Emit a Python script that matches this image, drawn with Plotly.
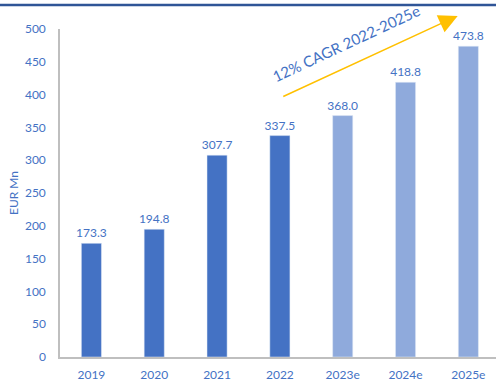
import plotly.graph_objects as go

categories = ["2019", "2020", "2021", "2022", "2023e", "2024e", "2025e"]
values = [173.3, 194.8, 307.7, 337.5, 368.0, 418.8, 473.8]
labels = ["173.3", "194.8", "307.7", "337.5", "368.0", "418.8", "473.8"]
y_ticks = [0, 50, 100, 150, 200, 250, 300, 350, 400, 450, 500]
cagr_text = "12% CAGR 2022-2025e"

dark = "#4472C4"
light = "#8FAADC"
colors = [dark if not c.endswith("e") else light for c in categories]
FONT = "Lato, Open Sans, sans-serif"

fig = go.Figure()
fig.add_trace(go.Bar(
    x=list(range(len(categories))), y=values, marker_color=colors,
    text=labels, textposition="outside", cliponaxis=False, constraintext="none",
    textfont=dict(color=dark, size=12, family=FONT),
))

fig.update_layout(
    width=496, height=383,
    margin=dict(l=60, r=0, t=29, b=26),
    plot_bgcolor="white", paper_bgcolor="white",
    showlegend=False, bargap=0.68,
    font=dict(family=FONT, color=dark, size=12),
    xaxis=dict(tickmode="array", tickvals=list(range(len(categories))), ticktext=categories,
               range=[-0.5, 6.44], showline=True, linecolor="#BFBFBF", linewidth=1.5,
               showgrid=False, zeroline=False, ticks="", ticklabelstandoff=6,
               tickfont=dict(size=12, color=dark, family=FONT)),
    yaxis=dict(range=[0, 500], tickvals=y_ticks, showline=True, linecolor="#BFBFBF",
               linewidth=1.5, showgrid=False, zeroline=False, ticks="", ticklabelstandoff=10,
               tickfont=dict(size=12, color=dark, family=FONT),
               title=dict(text="EUR Mn", font=dict(size=12, color=dark, family=FONT), standoff=4)),
)

# top border line
fig.add_shape(type="line", xref="paper", yref="paper", x0=-60/436, x1=1, y0=1.073, y1=1.073,
              line=dict(color="#2F5597", width=2.5))

# CAGR arrow
fig.add_annotation(x=5.83, y=520, ax=3.03, ay=396, xref="x", yref="y", axref="x", ayref="y",
                   text="", showarrow=True, arrowhead=2, arrowsize=2.5, arrowwidth=1.5,
                   arrowcolor="#FFC000")
fig.add_annotation(x=4.06, y=478, xref="x", yref="y", text=cagr_text, showarrow=False,
                   textangle=-25, font=dict(size=15, color=dark, family=FONT))

fig.write_html("out.html", config={"displayModeBar": False},
               post_script="document.body.style.margin='0';document.body.style.padding='0';")
